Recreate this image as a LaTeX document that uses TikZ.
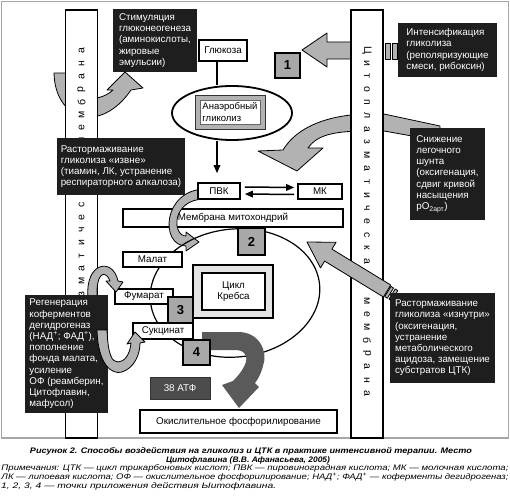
\documentclass[tikz,border=0pt]{standalone}
\usepackage{fontspec}
\usepackage{graphicx}
\setmainfont{Liberation Sans}
\usetikzlibrary{arrows.meta,calc,shapes.geometric}
\definecolor{bk}{HTML}{1E1E1E}
\definecolor{lg}{HTML}{B2B2B2}
\definecolor{ng}{HTML}{A8A8A8}
\definecolor{dg}{HTML}{5A5A5A}
\definecolor{ag}{HTML}{4C4C4C}
\newcommand{\bx}[7]{%
 \pgfmathsetmacro{\bxX}{(#2+#4)/2}\pgfmathsetmacro{\bxY}{(#3+#5)/2}%
 \pgfmathsetmacro{\bxW}{#4-#2}\pgfmathsetmacro{\bxH}{#5-#3}%
 \node[#6, minimum width=\bxW pt, minimum height=\bxH pt] (#1) at (\bxX,\bxY) {#7};}
\begin{document}
\begin{tikzpicture}[x=1pt,y=-1pt,
  bbox/.style={fill=bk,text=white,align=left,inner sep=0pt,font=\fontsize{9.8}{11.2}\selectfont},
  wbox/.style={draw=black,line width=1.6pt,fill=white,inner sep=0pt,font=\fontsize{9.8}{11}\selectfont},
  numbox/.style={draw=black,line width=1.2pt,fill=ng,inner sep=0pt,font=\bfseries\fontsize{13}{13}\selectfont},
  garrow/.style={fill=lg,draw=black,line width=0.8pt,line join=round},
  memb/.style={draw=black,line width=1.6pt,fill=white,inner sep=0pt},
  mlet/.style={inner sep=0pt,font=\fontsize{10.5}{10.5}\selectfont},
  conn/.style={line width=1.5pt},
  arr/.style={conn,-{Triangle[length=8pt,width=6.5pt]}},
  captxt/.style={inner sep=0pt}]
\useasboundingbox (0,0) rectangle (510,495);
\fill[white] (0,0) rectangle (510,495);
\draw[gray!70,line width=1.2pt] (1.5,1.5) rectangle (508.5,438);

% arrow A (to gluconeogenesis)
\draw[garrow] (54,73) .. controls (55,120) and (100,135) .. (131,90) -- (143,88) -- (125,72) -- (107,90) -- (113,90) .. controls (98,104) and (68,102) .. (67,73) -- cycle;
% arrow B (big left arrow)
\draw[garrow] (302,50) -- (327,33) -- (327,42) -- (360,42) -- (360,59) -- (327,59) -- (327,67) -- cycle;
% arrow C (curved from shunt box)
\draw[garrow] (440,126) -- (384,114) .. controls (340,112) and (300,122) .. (283,150) -- (258,151) -- (297,171) -- (323,148) -- (308,148) .. controls (318,134) and (335,130) .. (384,131) -- (440,141) -- cycle;

% membranes
\node[memb,minimum width=32pt,minimum height=428pt] (lmem) at (81.5,224) {};
\node[memb,minimum width=32pt,minimum height=428pt] (rmem) at (367,224) {};
\foreach \i/\c in {0/Ц,1/и,2/т,3/о,4/п,5/л,6/а,7/з,8/м,9/а,10/т,11/и,12/ч,13/е,14/с,15/к,16/а,17/я,19/м,20/е,21/м,22/б,23/р,24/а,25/н,26/а}
  {\node[mlet,rotate=-90] (rm\i) at (367,50+13.2*\i) {\c};
   \node[mlet,rotate=90] (lm\i) at (81.5,230-12.8*\i+12.8*12) {\c};}

% arrow F (straight from inside)
\draw[garrow] (390.7,285.0) -- (331.9,249.1) -- (336.1,242.3) -- (307,242) -- (320.5,267.9) -- (324.6,261.1) -- (383.4,297.0) -- cycle;
\draw[garrow] (391.0,286.4) -- (393.5,288.0) -- (387.3,298.2) -- (384.7,296.6) -- cycle;
\draw[garrow] (395.2,289.0) -- (397.8,290.6) -- (391.5,300.8) -- (389.0,299.2) -- cycle;
% bars of arrow B
\draw[garrow] (385.5,43) rectangle (390.5,59);
\draw[garrow] (392.5,43) rectangle (397.5,59);

% glycolysis
\node[draw,line width=1.8pt,ellipse,minimum width=120pt,minimum height=54pt,inner sep=0pt] (gly) at (232,113) {};
\bx{anb}{195}{95}{265}{129}{draw=black!80,line width=0.6pt,fill=gray!60,inner sep=0pt}{}
\bx{anbt}{200}{100}{260}{124}{fill=white,draw=black!60,line width=0.4pt,inner sep=0pt,align=left,font=\fontsize{9.5}{12}\selectfont}{Анаэробный\\гликолиз}
\bx{glu}{199}{40}{247}{61}{wbox}{Глюкоза}
\coordinate (vx) at (217,0);
\draw[conn] (glu.south -| vx) -- (gly.north -| vx);

\bx{mmit}{123}{209}{343}{227}{wbox}{Мембрана митохондрий}
% arrow D (from PVK into mitochondria)
\draw[garrow] (205,189) .. controls (162,190) and (160,246) .. (186,246) -- (186,251) -- (199,242) -- (186,232) -- (186,236) .. controls (172,236) and (171,199) .. (205,199) -- cycle;
\bx{pvk}{198}{183}{240}{199}{wbox}{ПВК}
\bx{mk}{298}{184}{342}{199}{wbox}{МК}
\coordinate (pvkin) at ([yshift=9pt]pvk.north);
\draw[arr] (gly.south -| vx) -- (pvkin -| vx);
\draw[arr] ([xshift=4pt,yshift=4pt]pvk.east) -- ([xshift=-3pt,yshift=4pt]mk.west);
\draw[arr] ([xshift=-3pt,yshift=-3pt]mk.west) -- ([xshift=4pt,yshift=-3pt]pvk.east);

% mitochondrion
\node[draw,line width=1.2pt,ellipse,minimum width=170pt,minimum height=128pt,inner sep=0pt,rotate=6] (mito) at (235,293) {};
\fill[dg] (202,332) -- (238,332) .. controls (260,332) and (268,352) .. (263,366) .. controls (261,374) and (258,379) .. (255,383) -- (259,387) -- (239,408) -- (222,385) -- (233,381) .. controls (241,373) and (248,363) .. (246,356) .. controls (244,351) and (240,350) .. (234,350) -- (202,350) -- cycle;
\bx{mal}{123}{252}{182}{267}{wbox}{Малат}
\bx{fum}{115}{289}{173}{304}{wbox}{Фумарат}
\bx{suc}{133}{323}{193}{339}{wbox}{Сукцинат}
\bx{kro}{193}{265}{273}{318}{draw=black,line width=2.2pt,fill=gray!22}{}
\bx{kr}{202}{273}{265}{310}{wbox,line width=2pt,align=center}{Цикл\\Кребса}
\bx{n2}{238}{228}{265}{255}{numbox}{2}
\bx{n3}{168}{297}{193}{323}{numbox}{3}
\bx{n4}{183}{340}{210}{365}{numbox}{4}
\bx{atp}{150}{377}{210}{399}{fill=ag,draw=black!80,line width=0.8pt,text=white,inner sep=0pt,font=\fontsize{9.8}{11}\selectfont}{38 АТФ}
\bx{oxp}{140}{410}{337}{433}{wbox}{Окислительное фосфорилирование}

% arrows E
\draw[garrow] (88,297) .. controls (85,262) and (113,257) .. (118,281) -- (123,282) -- (116,292) -- (106,281) -- (110,281) .. controls (106,270) and (96,271) .. (97,297) -- cycle;
\bx{reg}{25}{295}{108}{413}{bbox}{Регенерация\\коферментов\\дегидрогеназ\\(НАД\textsuperscript{+}; ФАД\textsuperscript{+}),\\пополнение\\фонда малата,\\усиление\\ОФ (реамберин,\\Цитофлавин,\\мафусол)}
\draw[garrow] (97,330) .. controls (98,365) and (112,375) .. (122,372) .. controls (134,368) and (140,355) .. (140,343) -- (145,342) -- (135,332) -- (127,344) -- (131,343) .. controls (130,355) and (124,362) .. (118,362) .. controls (112,362) and (108,355) .. (107,330) -- cycle;

% black boxes
\bx{stim}{113}{9}{197}{72}{bbox}{Стимуляция\\глюконеогенеза\\(аминокислоты,\\жировые\\эмульсии)}
\bx{int}{398}{23}{497}{77}{bbox}{Интенсификация\\гликолиза\\(реполяризующие\\смеси, рибоксин)}
\bx{izv}{57}{138}{185}{195}{bbox}{Растормаживание\\гликолиза «извне»\\(тиамин, ЛК, устранение\\респираторного алкалоза)}
\bx{shu}{410}{128}{485}{220}{bbox}{Снижение\\легочного\\шунта\\(оксигенация,\\сдвиг кривой\\насыщения\\pO\textsubscript{2арт})}
\bx{izn}{390}{293}{495}{383}{bbox}{Растормаживание\\гликолиза «изнутри»\\(оксигенация,\\устранение\\метаболического\\ацидоза, замещение\\субстратов ЦТК)}
\bx{n1}{275}{53}{300}{78}{numbox}{1}

% caption
\node[captxt,font=\bfseries\itshape\fontsize{8}{8}\selectfont] (cap1) at (251,451) {\resizebox{442pt}{\height}{Рисунок 2. Способы воздействия на гликолиз и ЦТК в практике интенсивной терапии. Место}};
\node[captxt,font=\bfseries\itshape\fontsize{8}{8}\selectfont] (cap2) at (248,460) {\resizebox{164pt}{\height}{Цитофлавина (В.В. Афанасьева, 2005)}};
\node[captxt,font=\itshape\fontsize{8}{8}\selectfont] (cap3) at (255,468.5) {\resizebox{507pt}{\height}{Примечания: ЦТК — цикл трикарбоновых кислот; ПВК — пировиноградная кислота; МК — молочная кислота;}};
\node[captxt,font=\itshape\fontsize{8}{8}\selectfont] (cap4) at (255,477) {\resizebox{507pt}{\height}{ЛК — липоевая кислота; ОФ — окислительное фосфорилирование; НАД\textsuperscript{+}; ФАД\textsuperscript{+} — коферменты дегидрогеназ;}};
\node[captxt,font=\itshape\fontsize{8}{8}\selectfont,anchor=west] (cap5) at (1,486) {\resizebox{275pt}{\height}{1, 2, 3, 4 — точки приложения действия Ыитофлавина.}};
\end{tikzpicture}
\end{document}
